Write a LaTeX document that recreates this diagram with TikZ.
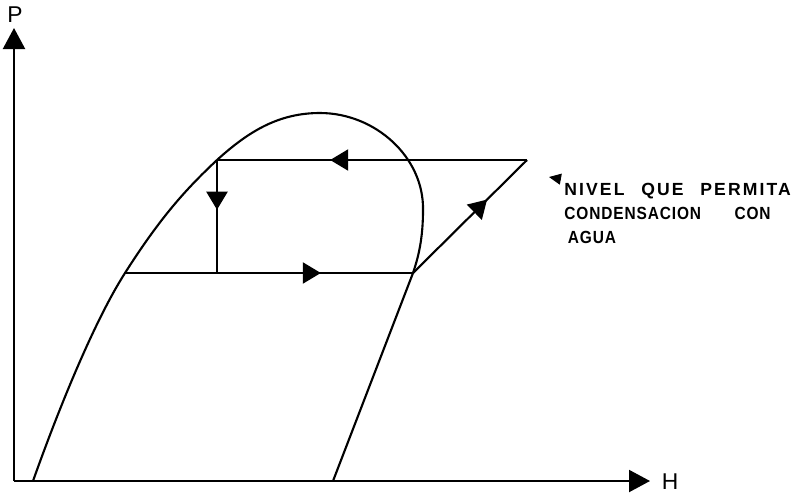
\documentclass[tikz,border=0pt]{standalone}
\usepackage{fontspec}
\setsansfont{Liberation Sans}
\newfontfamily\notefont{Liberation Sans Bold}[LetterSpace=12, WordSpace=2.4]
\newfontfamily\notecond{Liberation Sans Bold}[FakeStretch=0.88, LetterSpace=5]
\usepackage{tikz}
\usetikzlibrary{arrows.meta,decorations.markings,calc}
\tikzset{
  curve/.style={line width=1.2pt, black},
  axis/.style={line width=1.2pt, -{Triangle[length=4.2mm, width=4.4mm]}},
  midarr/.style={postaction={decorate, decoration={markings,
      mark=at position #1 with {\arrow{Triangle[length=3.6mm, width=4.2mm]}}}}},
  axlbl/.style={font=\sffamily\fontsize{13}{13}\selectfont, inner sep=0pt},
  note/.style={font=\notefont\fontsize{10}{13.6}\selectfont,
               align=left, inner sep=0pt, anchor=north west}
}
\begin{document}
\begin{tikzpicture}[x=0.02cm, y=-0.02cm]
  \useasboundingbox (0,0) rectangle (800,498);
  % axes
  \coordinate (o) at (14,481);
  \coordinate (ptop) at (14,28);
  \coordinate (hend) at (650,481);
  \draw[axis] (o) -- (ptop);
  \draw[axis] (o) -- (hend);
  \node[axlbl] (plbl) at (15,15) {P};
  \node[axlbl] (hlbl) at (670,482) {H};
  % saturation dome
  \coordinate (lfoot) at (33,481);
  \coordinate (rfoot) at (333,481);
  \coordinate (A) at (217,160);
  \coordinate (B) at (527,160);
  \coordinate (C) at (413,273);
  \coordinate (D) at (125,273);
  \coordinate (E) at (217,273);
  \coordinate (top) at (320,113);
  \coordinate (bulge) at (423,210);
  \draw[curve] (lfoot) .. controls (60,405) and (95,320) .. (D)
    .. controls (160,218) and (185,190) .. (A)
    .. controls (250,130) and (280,113) .. (top)
    .. controls (375,113) and (424,157) .. (bulge)
    .. controls (423,240) and (418,258) .. (C) -- (rfoot);
  % cycle
  \draw[curve, midarr=0.635] (B) -- (A);
  \draw[curve, midarr=0.44] (A) -- (E);
  \draw[curve, midarr=0.68] (D) -- (C);
  \draw[curve, midarr=0.65] (C) -- (B);
  % note
  \node[note] (nivel) at (564,183) {NIVEL QUE PERMITA\\{\notecond CONDENSACION}\hspace{19pt}{\notecond CON}\\\hspace{2pt}{\notecond AGUA}};
  \coordinate (ptr) at (549,177);
  \draw[line width=0.6pt, -{Triangle[length=2.4mm, width=2.2mm]}] ($(ptr)+(11,2)$) -- (ptr);
\end{tikzpicture}
\end{document}
